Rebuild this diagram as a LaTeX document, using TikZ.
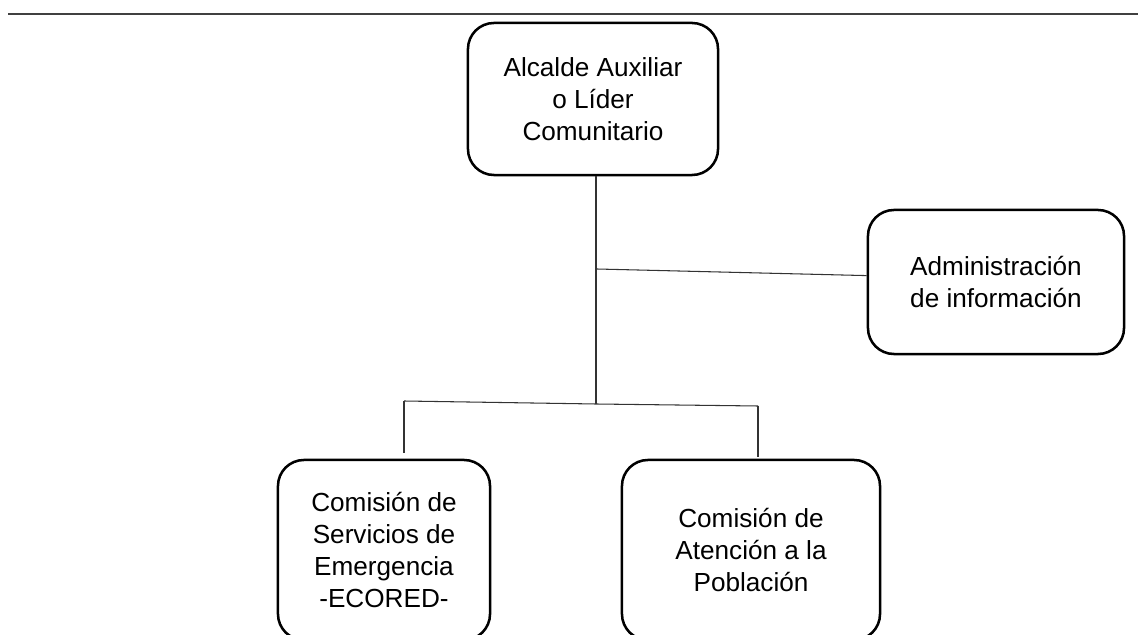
\documentclass[tikz,border=0pt]{standalone}
\usepackage{fontspec}
\setmainfont{Liberation Sans}
\usepackage{tikz}
\usetikzlibrary{shapes,positioning}

\begin{document}
\begin{tikzpicture}[x=0.025cm, y=-0.025cm,
        orgbox/.style={draw, rectangle, rounded corners=0.65cm, line width=1.8pt, align=center, font=\fontsize{18.6}{22.8}\selectfont},
        link/.style={draw=black!80, line width=0.75pt}]
        \useasboundingbox (0,0) rectangle (1138,635);
        \clip (0,0) rectangle (1138,635);

        % rule at the top of the page
        \draw[black!75, line width=1.1pt] (8,14) -- (1138,14);

        % Define nodes of the chart
        \node[orgbox, minimum width=6.25cm, minimum height=3.8cm] (alcalde) at (593,99) {Alcalde Auxiliar\\o Líder\\Comunitario};

        \node[orgbox, minimum width=6.4cm, minimum height=3.6cm] (admin) at (996,282) {Administración\\de información};

        \node[orgbox, minimum width=5.3cm, minimum height=4.5cm] (ecored) at (384,550) {Comisión de\\Servicios de\\Emergencia\\-ECORED-};

        \node[orgbox, minimum width=6.45cm, minimum height=4.5cm] (poblacion) at (751,550) {Comisión de\\Atención a la\\Población};

        % Branch points of the connectors
        \coordinate (adminjoint) at (597,269);
        \coordinate (bottomjoint) at (596,404);
        \coordinate (leftend) at (404,401);
        \coordinate (rightend) at (758,406);
        \coordinate (leftfoot) at (404,453);
        \coordinate (rightfoot) at (758,457);

        % Connect nodes with plain lines
        \draw[link] (alcalde.south -| bottomjoint) -- (bottomjoint);
        \draw[link] (adminjoint) -- ([yshift=0.16cm]admin.west);
        \draw[link] (leftend) -- (bottomjoint) -- (rightend);
        \draw[link] (leftend) -- (leftfoot);
        \draw[link] (rightend) -- (rightfoot);
    \end{tikzpicture}
\end{document}
